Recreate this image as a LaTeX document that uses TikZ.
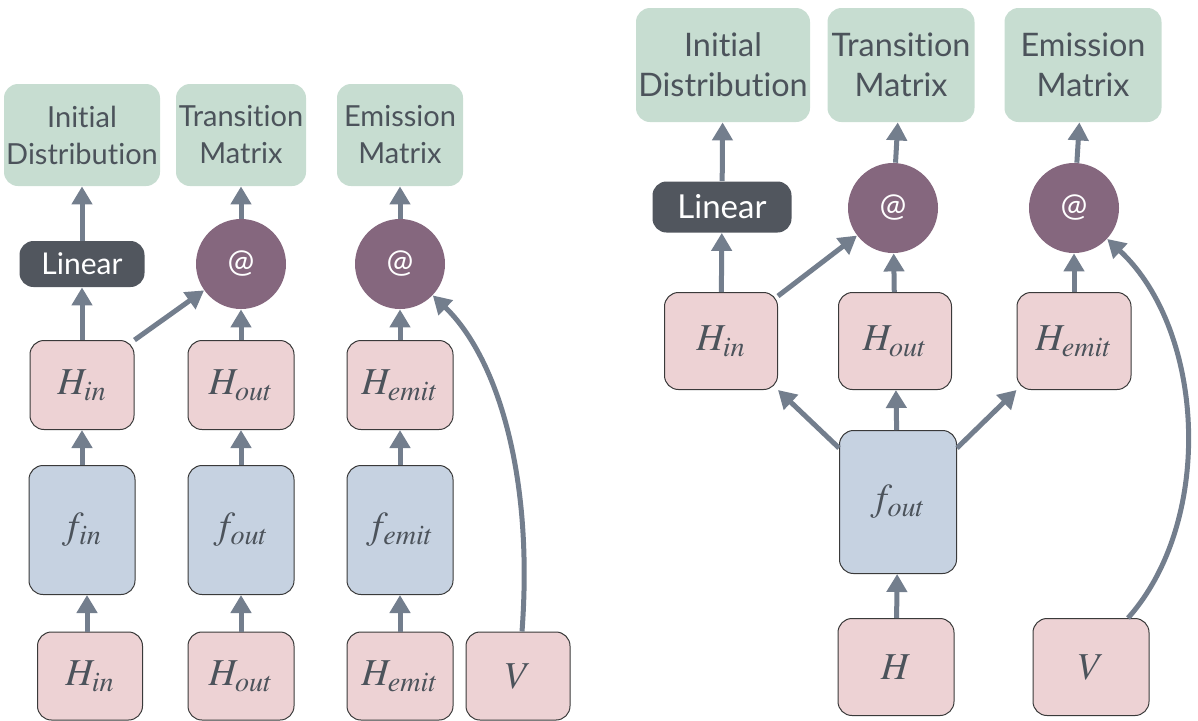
\documentclass[tikz,border=0pt]{standalone}
\usepackage{mathptmx}
\usepackage{fontspec}
\setmainfont{Lato}[Ligatures={NoCommon}]
\usetikzlibrary{arrows.meta}

\definecolor{boxgreen}{HTML}{C7DDD1}
\definecolor{boxpink}{HTML}{EDD2D4}
\definecolor{boxblue}{HTML}{C6D2E1}
\definecolor{opdark}{HTML}{51565E}
\definecolor{opmauve}{HTML}{85677E}
\definecolor{edgegray}{HTML}{737E8D}
\definecolor{txtgray}{HTML}{4C535B}
\definecolor{boxline}{HTML}{3A3A3A}

\tikzset{
  outbox/.style={fill=boxgreen, rounded corners=7pt, text=txtgray, align=center,
    font=\fontsize{14.5}{18.5}\selectfont, inner sep=0pt},
  bigout/.style={outbox, font=\fontsize{16.2}{20}\selectfont},
  varbox/.style={fill=boxpink, draw=boxline, line width=0.5pt, rounded corners=7pt,
    text=txtgray, inner sep=0pt, font=\fontsize{19}{19}\selectfont},
  netbox/.style={varbox, fill=boxblue},
  linbox/.style={fill=opdark, rounded corners=7pt, text=white,
    font=\fontsize{15}{18}\selectfont, inner sep=0pt},
  matmul/.style={circle, fill=opmauve, text=white, minimum size=45pt, inner sep=0pt,
    font=\fontsize{16}{16}\selectfont},
  flow/.style={draw=edgegray, line width=2.5pt, -{Triangle[width=10pt,length=9pt]}},
}

\begin{document}
\begin{tikzpicture}[x=0.5pt,y=-0.5pt]
  \useasboundingbox (0,0) rectangle (1198,720);

  %%%%% LEFT: separate networks %%%%%

  \node[outbox, minimum width=78pt, minimum height=51pt] (ainit) at (82,135) {Initial\\Distribution};
  \node[outbox, minimum width=65pt, minimum height=51pt] (atrans) at (241,135) {Transition\\Matrix};
  \node[outbox, minimum width=63pt, minimum height=51pt] (aemit) at (400,135) {Emission\\Matrix};

  \node[linbox, minimum width=62.5pt, minimum height=23pt] (alin) at (82,264) {Linear};
  \node[matmul] (amm1) at (241,264) {@};
  \node[matmul] (amm2) at (400,264) {@};

  \node[varbox, minimum width=52pt, minimum height=44.5pt] (ahin) at (82,385) {$H_{in}$};
  \node[varbox, minimum width=53pt, minimum height=44.5pt] (ahout) at (241,385) {$H_{out}$};
  \node[varbox, minimum width=53pt, minimum height=44.5pt] (ahemit) at (400,385) {$H_{emit}$};

  \node[netbox, minimum width=53pt, minimum height=64.5pt] (afin) at (82,530) {$f_{in}$};
  \node[netbox, minimum width=53pt, minimum height=64.5pt] (afout) at (241,530) {$f_{out}$};
  \node[netbox, minimum width=53pt, minimum height=64.5pt] (afemit) at (400,530) {$f_{emit}$};

  \node[varbox, minimum width=52.5pt, minimum height=44pt] (ain) at (90,676) {$H_{in}$};
  \node[varbox, minimum width=53pt, minimum height=44pt] (aout) at (241,676) {$H_{out}$};
  \node[varbox, minimum width=53pt, minimum height=44pt] (aemitin) at (400,676) {$H_{emit}$};
  \node[varbox, minimum width=52pt, minimum height=44pt] (av) at (518,676) {$V$};

  \draw[flow] ([xshift=-1.5pt]ain.north) -- ([xshift=-1.5pt]ain.north |- afin.south);
  \draw[flow] (afin) -- (ahin);
  \draw[flow] (ahin) -- (alin);
  \draw[flow] (alin) -- (ainit);
  \draw[flow] (ahin.north east) -- (amm1);

  \draw[flow] (aout) -- (afout);
  \draw[flow] (afout) -- (ahout);
  \draw[flow] (ahout) -- (amm1);
  \draw[flow] (amm1) -- (atrans);

  \draw[flow] (aemitin) -- (afemit);
  \draw[flow] (afemit) -- (ahemit);
  \draw[flow] (ahemit) -- (amm2);
  \draw[flow] (amm2) -- (aemit);
  \draw[flow] ([xshift=2pt]av.north) .. controls (534,470) and (495,355) .. (amm2);

  %%%%% RIGHT: shared network %%%%%

  \node[bigout, minimum width=87pt, minimum height=57pt] (binit) at (723,65) {Initial\\Distribution};
  \node[bigout, minimum width=73.5pt, minimum height=57pt] (btrans) at (901,65) {Transition\\Matrix};
  \node[bigout, minimum width=78.5pt, minimum height=57pt] (bemit) at (1083,65) {Emission\\Matrix};

  \node[linbox, font=\fontsize{16.5}{18}\selectfont, minimum width=69.5pt, minimum height=25.5pt] (blin) at (722,207) {Linear};
  \node[matmul] (bmm1) at (893,208) {@};
  \node[matmul] (bmm2) at (1074,208) {@};

  \node[varbox, minimum width=56.5pt, minimum height=48.5pt] (bhin) at (721,341) {$H_{in}$};
  \node[varbox, minimum width=56.5pt, minimum height=48.5pt] (bhout) at (895,341) {$H_{out}$};
  \node[varbox, minimum width=57pt, minimum height=48.5pt] (bhemit) at (1074,341) {$H_{emit}$};

  \node[netbox, minimum width=58.5pt, minimum height=71.5pt] (bf) at (898,502) {$f_{out}$};

  \node[varbox, minimum width=58pt, minimum height=48.5pt] (bh) at (896,667) {$H$};
  \node[varbox, minimum width=58pt, minimum height=48.5pt] (bv) at (1091,667) {$V$};

  \draw[flow] (bh) -- (bf);
  \draw[flow] ([yshift=-9pt]bf.north west) -- (bhin.south east);
  \draw[flow] (bf) -- (bhout);
  \draw[flow] ([yshift=-9pt]bf.north east) -- (bhemit.south west);

  \draw[flow] (bhin) -- (blin);
  \draw[flow] (blin) -- (binit);
  \draw[flow] ([yshift=-2pt]bhin.north east) -- (bmm1);
  \draw[flow] (bhout) -- (bmm1);
  \draw[flow] (bmm1) -- (btrans);
  \draw[flow] (bhemit) -- (bmm2);
  \draw[flow] (bmm2) -- (bemit);
  \draw[flow] ([xshift=18.5pt]bv.north) .. controls (1215,520) and (1205,330) .. (bmm2);
\end{tikzpicture}
\end{document}
